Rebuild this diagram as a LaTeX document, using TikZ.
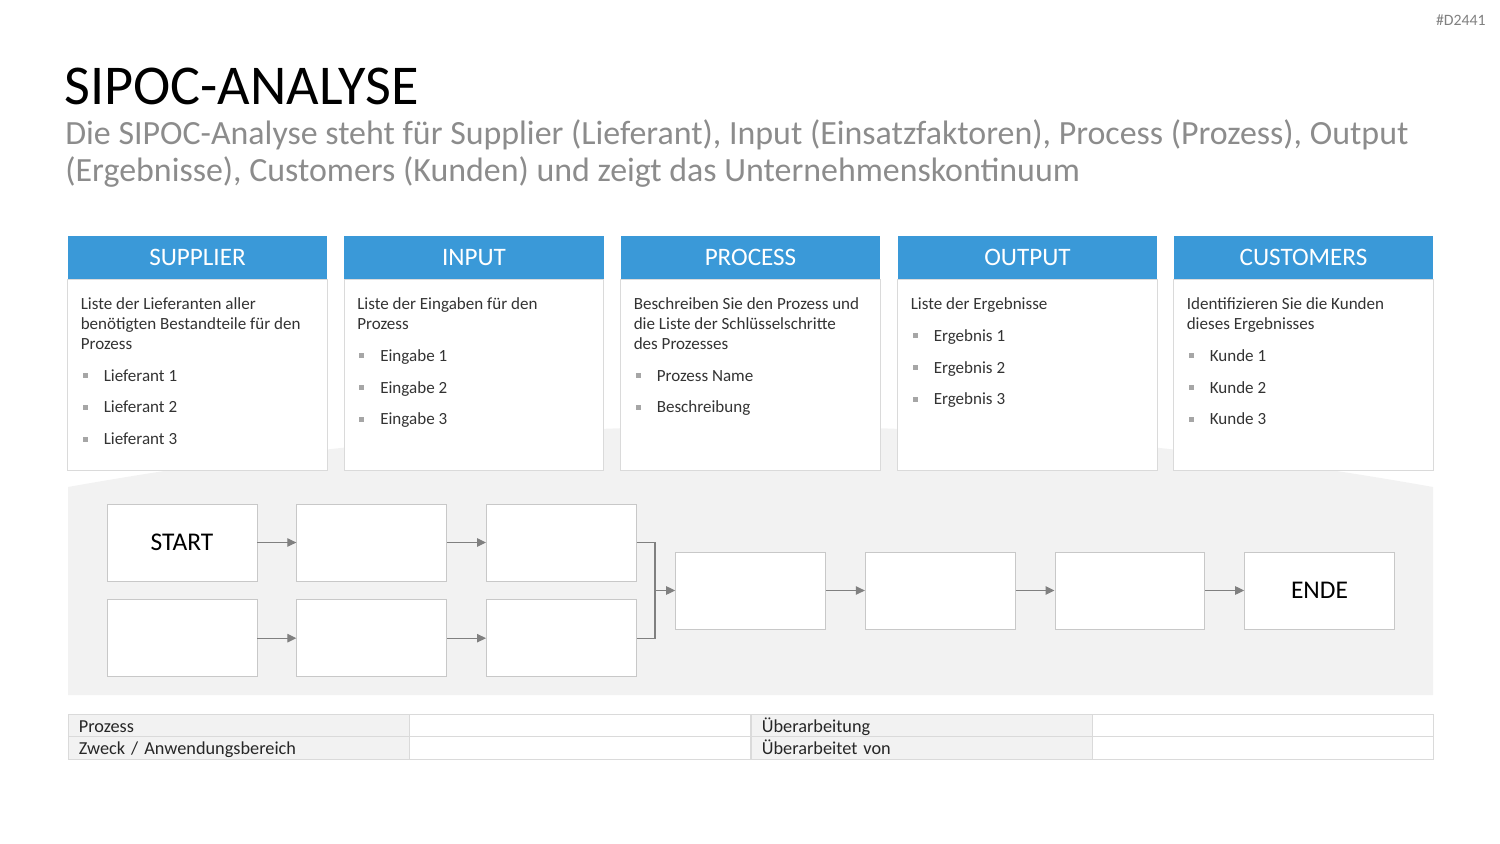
\documentclass[tikz,border=0pt]{standalone}
\usepackage{fontspec}
\setmainfont{Carlito}
\usepackage{tikz}
\usetikzlibrary{calc,positioning,arrows.meta}
\definecolor{sipBlue}{HTML}{3A99D8}
\definecolor{sipBack}{HTML}{F2F2F2}
\definecolor{sipLine}{HTML}{DADADA}
\definecolor{sipBox}{HTML}{C8C8C8}
\definecolor{sipText}{HTML}{333333}
\definecolor{sipSub}{HTML}{8C8C8C}
\definecolor{sipArr}{HTML}{808080}
\definecolor{sipDot}{HTML}{A6A6A6}
\newcommand{\sipitem}[1]{\makebox[0.46cm][l]{\hspace{0.04cm}\raisebox{1.8pt}{\textcolor{sipDot}{\rule{0.1cm}{0.1cm}}}}#1}

\begin{document}
\begin{tikzpicture}[x=0.02cm,y=-0.02cm,
  head/.style={fill=sipBlue,minimum width=5.19cm,minimum height=0.86cm,
               inner sep=0pt,font=\fontsize{14.3}{16}\selectfont,text=white},
  body/.style={draw=sipLine,fill=white,minimum width=5.19cm,minimum height=3.82cm,
               inner sep=0pt},
  txt/.style={inner sep=0pt,align=left,text=sipText,
              font=\fontsize{9.7}{11.34}\selectfont},
  pbox/.style={draw=sipBox,fill=white,minimum width=3cm,minimum height=1.54cm,
               inner sep=0pt,font=\fontsize{14.5}{16}\selectfont},
  cell/.style={draw=sipLine,minimum width=6.825cm,minimum height=0.45cm,
               inner xsep=0.22cm,inner ysep=0pt,text width=6.385cm,align=left,
               text height=9.3pt,text depth=1.6pt,
               font=\fontsize{10.4}{11}\selectfont,text=black!85},
  ln/.style={draw=sipArr,line width=0.6pt},
  arr/.style={ln,-{Triangle[length=0.18cm,width=0.17cm]}}]
  \useasboundingbox (0,0) rectangle (1500,844);
  % title and tag
  \node[font=\fontsize{9}{10}\selectfont,text=sipArr,anchor=east,inner sep=0pt]
    (tag) at (1486,20) {\#D2441};
  \node[font=\fontsize{32}{37}\selectfont,anchor=west,inner sep=0pt] (title) at (64,86)
    {SIPOC-ANALYSE};
  \node[font=\fontsize{19.3}{21}\selectfont,text=sipSub,anchor=north west,inner sep=0pt,
        align=left] (sub) at (65,119)
    {Die SIPOC-Analyse steht für Supplier (Lieferant), Input (Einsatzfaktoren), Process (Prozess), Output\\
     (Ergebnisse), Customers (Kunden) und zeigt das Unternehmenskontinuum};
  % grey band behind the flow
  \fill[sipBack] (68,695) -- (68,487) .. controls (522.7,405.7) and (977.3,405.7)
    .. (1433,487) -- (1433,695) -- cycle;
  % SIPOC columns
  \node[body] (supb) at (197.5,374.5) {};
  \node[body] (inpb) at (474,374.5) {};
  \node[body] (prob) at (750.5,374.5) {};
  \node[body] (outb) at (1027.5,374.5) {};
  \node[body] (cusb) at (1303.5,374.5) {};
  \node[head] (suph) at (197.5,257.5) {SUPPLIER};
  \node[head] (inph) at (474,257.5) {INPUT};
  \node[head] (proh) at (750.5,257.5) {PROCESS};
  \node[head] (outh) at (1027.5,257.5) {OUTPUT};
  \node[head] (cush) at (1303.5,257.5) {CUSTOMERS};
  \node[txt,below right=0.37cm and 0.26cm of supb.north west] (supt)
    {Liste der Lieferanten aller\\benötigten Bestandteile für den\\Prozess\\[6.8pt]
     \sipitem{Lieferant 1}\\[6.8pt]\sipitem{Lieferant 2}\\[6.8pt]\sipitem{Lieferant 3}};
  \node[txt,below right=0.37cm and 0.26cm of inpb.north west] (inpt)
    {Liste der Eingaben für den\\Prozess\\[6.8pt]
     \sipitem{Eingabe 1}\\[6.8pt]\sipitem{Eingabe 2}\\[6.8pt]\sipitem{Eingabe 3}};
  \node[txt,below right=0.37cm and 0.26cm of prob.north west] (prot)
    {Beschreiben Sie den Prozess und\\die Liste der Schlüsselschritte\\des Prozesses\\[6.8pt]
     \sipitem{Prozess Name}\\[6.8pt]\sipitem{Beschreibung}};
  \node[txt,below right=0.37cm and 0.26cm of outb.north west] (outt)
    {Liste der Ergebnisse\\[6.8pt]
     \sipitem{Ergebnis 1}\\[6.8pt]\sipitem{Ergebnis 2}\\[6.8pt]\sipitem{Ergebnis 3}};
  \node[txt,below right=0.37cm and 0.26cm of cusb.north west] (cust)
    {Identifizieren Sie die Kunden\\dieses Ergebnisses\\[6.8pt]
     \sipitem{Kunde 1}\\[6.8pt]\sipitem{Kunde 2}\\[6.8pt]\sipitem{Kunde 3}};
  % process flow
  \node[pbox] (start) at (182,542.5) {START};
  \node[pbox,right=0.78cm of start] (a1) {};
  \node[pbox,right=0.78cm of a1] (a2) {};
  \node[pbox,below=0.36cm of start] (b0) {};
  \node[pbox,right=0.78cm of b0] (b1) {};
  \node[pbox,right=0.78cm of b1] (b2) {};
  \node[pbox] (p1) at (750.5,590.5) {};
  \node[pbox,right=0.78cm of p1] (p2) {};
  \node[pbox,right=0.78cm of p2] (p3) {};
  \node[pbox,right=0.78cm of p3] (ende) {ENDE};
  \coordinate (mrg) at (655,590.5);
  \draw[arr] (start) -- (a1); \draw[arr] (a1) -- (a2);
  \draw[arr] (b0) -- (b1); \draw[arr] (b1) -- (b2);
  \draw[ln] (a2.east) -| (mrg); \draw[ln] (b2.east) -| (mrg);
  \draw[arr] (mrg) -- (p1);
  \draw[arr] (p1) -- (p2); \draw[arr] (p2) -- (p3); \draw[arr] (p3) -- (ende);
  % footer table
  \node[cell,fill=sipBack] (c11) at (238.5,725.5) {Prozess};
  \node[cell] (c12) at (580,725.5) {};
  \node[cell,fill=sipBack] (c13) at (921.5,725.5) {Überarbeitung};
  \node[cell] (c14) at (1262.5,725.5) {};
  \node[cell,fill=sipBack] (c21) at (238.5,748) {Zweck / Anwendungsbereich};
  \node[cell] (c22) at (580,748) {};
  \node[cell,fill=sipBack] (c23) at (921.5,748) {Überarbeitet von};
  \node[cell] (c24) at (1262.5,748) {};
\end{tikzpicture}
\end{document}
